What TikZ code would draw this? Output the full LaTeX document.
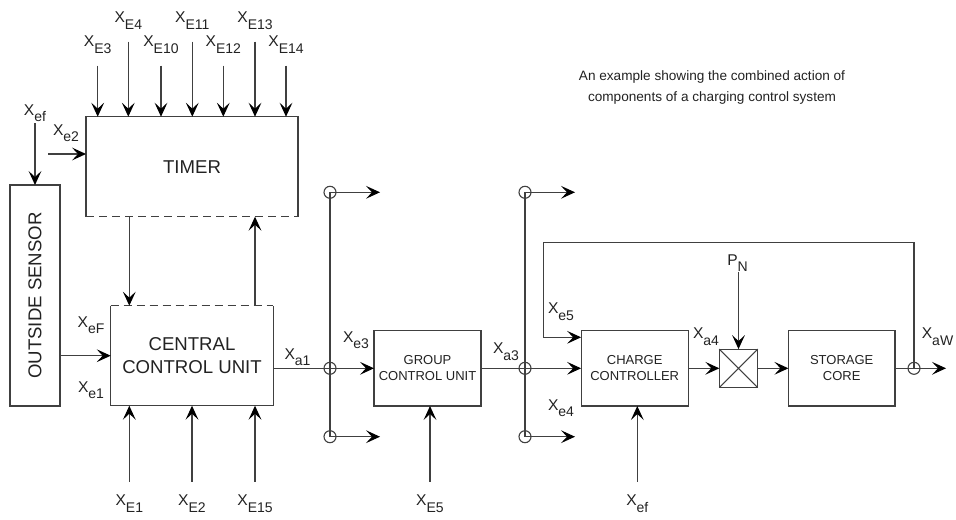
\documentclass[tikz,border=0pt]{standalone}
\usepackage{fontspec}
\setmainfont{Liberation Sans}
\usetikzlibrary{arrows.meta,positioning}
\definecolor{WireGray}{HTML}{404040}
\definecolor{InkGray}{HTML}{222222}
\newcommand{\sig}[2]{#1\raisebox{-3.2pt}{\fontsize{7}{8}\selectfont#2}}

\begin{document}
\begin{tikzpicture}[x=0.5pt,y=-0.5pt,
    wire/.style={WireGray,line width=0.55pt},
    arr/.style={wire,-{Stealth[black,length=7pt,width=6.4pt,inset=3pt]}},
    blk/.style={inner sep=0pt,outer sep=0pt,align=center,text=InkGray},
    box/.style={blk,draw=WireGray,line width=0.55pt},
    bigtxt/.style={font=\fontsize{9.3}{11.5}\selectfont},
    smalltxt/.style={font=\fontsize{6.5}{7.8}\selectfont},
    lbl/.style={inner sep=0pt,text=InkGray,font=\fontsize{7.8}{9}\selectfont},
    junc/.style={circle,draw=WireGray,line width=0.55pt,minimum size=6pt,inner sep=0pt}]

  \useasboundingbox (0,0) rectangle (956,519);

  % blocks
  \node[blk,bigtxt,minimum width=106pt,minimum height=50pt] (timer) at (192,166.7) {TIMER};
  \node[blk,bigtxt,minimum width=81.3pt,minimum height=50pt] (ccu) at (192,355.7) {CENTRAL\\CONTROL UNIT};
  \node[box,bigtxt,minimum width=25pt,minimum height=110.5pt] (sensor) at (35,295.5) {\rotatebox{90}{OUTSIDE SENSOR}};
  \node[box,smalltxt,minimum width=53.5pt,minimum height=37.7pt] (gcu) at (427.5,368.3) {GROUP\\CONTROL UNIT};
  \node[box,smalltxt,minimum width=53.6pt,minimum height=37.7pt] (cc) at (634.7,368.3) {CHARGE\\CONTROLLER};
  \node[box,minimum size=19.2pt] (mult) at (738.5,368.3) {};
  \node[box,smalltxt,minimum width=53.3pt,minimum height=37.7pt] (core) at (841.7,368.3) {STORAGE\\CORE};

  % half dashed outlines
  \draw[wire] (timer.south west) -- (timer.north west) -- (timer.north east) -- (timer.south east);
  \draw[wire,dash pattern=on 4pt off 2.5pt] (timer.south west) -- (timer.south east);
  \draw[wire] (ccu.north west) -- (ccu.south west) -- (ccu.south east) -- (ccu.north east);
  \draw[wire,dash pattern=on 4pt off 2.5pt] (ccu.north west) -- (ccu.north east);
  \draw[wire] (mult.north west) -- (mult.south east) (mult.north east) -- (mult.south west);

  % timer inputs
  \foreach \x/\y/\n in {97.7/65.7/E3,128.3/41.7/E4,161/65.7/E10,192.3/41.7/E11,
                        223.3/65.7/E12,255/41.7/E13,286/65.7/E14}{
    \coordinate (in\n) at (\x,\y);
    \node[lbl,above=6pt of in\n] (x\n) {\sig{X}{\n}};
    \draw[arr] (in\n) -- (in\n |- timer.north);
  }

  % bottom inputs
  \foreach \x/\n/\b in {129.3/E1/ccu,192/E2/ccu,255/E15/ccu,430/E5/gcu,637.3/ef/cc}{
    \coordinate (in\n) at (\x,481.7);
    \node[lbl,below=6.5pt of in\n] (x\n) {\sig{X}{\n}};
    \draw[arr] (in\n) -- (in\n |- \b.south);
  }

  % sensor and timer side inputs
  \coordinate (insens) at (35,123);
  \node[lbl,above=0.5pt of insens] (xefL) {\sig{X}{ef}};
  \draw[arr] (insens) -- (sensor.north);
  \coordinate (intimer) at (48,154);
  \draw[arr] (intimer) -- (timer.west |- intimer);
  \draw[arr] (sensor.east |- ccu.west) -- (ccu.west);
  \draw[arr] (129.3,0 |- timer.south) -- (129.3,0 |- ccu.north);
  \draw[arr] (255,0 |- ccu.north) -- (255,0 |- timer.south);

  % branch points
  \foreach \c/\x in {1/330,2/525}{
    \node[junc] (j\c t) at (\x,192.3) {};
    \node[junc] (j\c m) at (\x,368.3) {};
    \node[junc] (j\c b) at (\x,436.7) {};
    \coordinate (o\c t) at (\x+50,192.3);
    \coordinate (o\c b) at (\x+50,436.7);
    \draw[wire] (j\c t.center) -- (j\c b.center);
    \draw[arr] (j\c t.center) -- (o\c t);
    \draw[arr] (j\c b.center) -- (o\c b);
  }
  \node[junc] (jw) at (914,368.3) {};
  \coordinate (outw) at (946,368.3);

  % main chain
  \draw[arr] (ccu.east |- j1m) -- (gcu.west);
  \draw[arr] (gcu.east) -- (cc.west);
  \draw[arr] (cc.east) -- (mult.west);
  \draw[arr] (mult.east) -- (core.west);
  \draw[arr] (core.east) -- (outw);
  \draw[arr] (jw.center) |- (543.3,242.7) |- (cc.west |- 0,337.3);

  % labels
  \node[lbl] (xe2) at (66,133) {\sig{X}{e2}};
  \node[lbl] (xeF) at (91,325) {\sig{X}{eF}};
  \node[lbl] (xe1) at (91,390) {\sig{X}{e1}};
  \node[lbl] (xa1) at (297.5,357) {\sig{X}{a1}};
  \node[lbl] (xe3) at (356,340) {\sig{X}{e3}};
  \node[lbl] (xa3) at (506,351.7) {\sig{X}{a3}};
  \node[lbl] (xe5) at (561,311.7) {\sig{X}{e5}};
  \node[lbl] (xe4) at (561,408) {\sig{X}{e4}};
  \node[lbl] (xa4) at (706,336.7) {\sig{X}{a4}};
  \node[lbl] (xaW) at (937.5,336.7) {\sig{X}{aW}};
  \node[lbl] (pn) at (737.5,263) {\sig{P}{N}};
  \draw[arr] (mult.north |- pn.south) -- (mult.north);

  \node[lbl,align=center,font=\fontsize{6.8}{10.5}\selectfont] (caption) at (712,87)
    {An example showing the combined action of\\components of a charging control system};

\end{tikzpicture}
\end{document}
